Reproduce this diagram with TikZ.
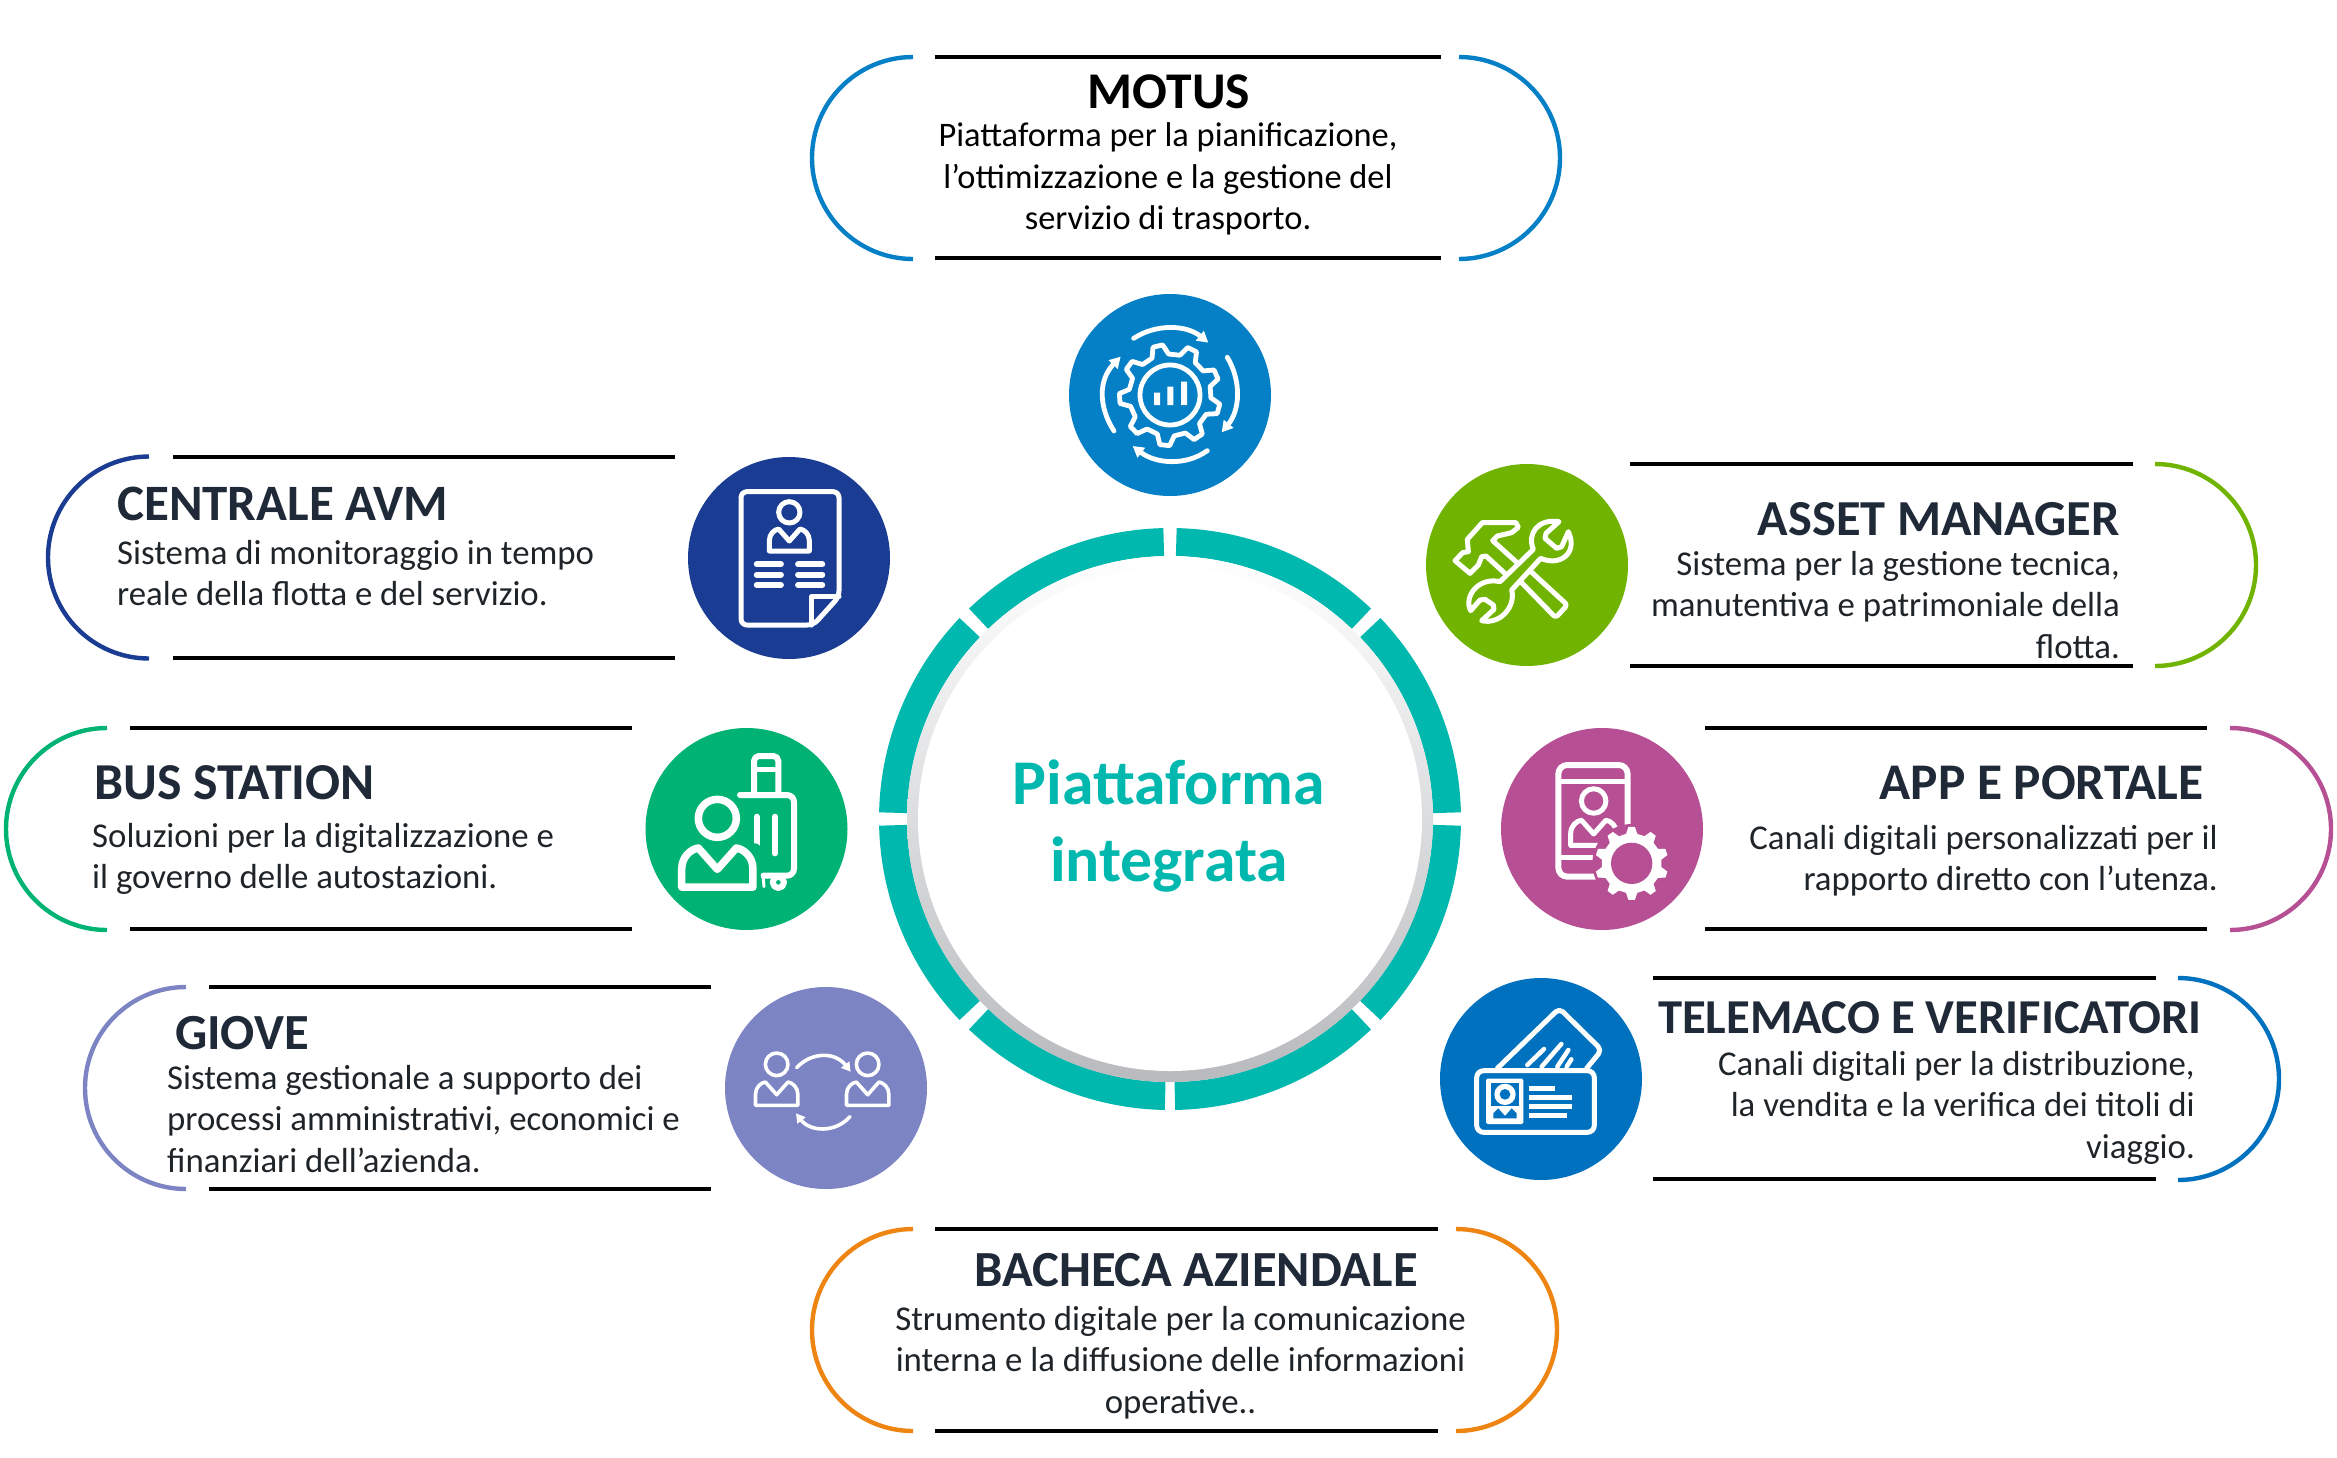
\documentclass[tikz,border=0pt]{standalone}
\usepackage{fontspec}
\setmainfont{Carlito}
\usetikzlibrary{arrows.meta}
\definecolor{cMotus}{HTML}{0580C7}
\definecolor{cAvm}{HTML}{1A3D93}
\definecolor{cAsset}{HTML}{70B300}
\definecolor{cBus}{HTML}{00B373}
\definecolor{cApp}{HTML}{B64F93}
\definecolor{cGiove}{HTML}{7C84C4}
\definecolor{cTele}{HTML}{0071BF}
\definecolor{cBach}{HTML}{EE8412}
\definecolor{cTeal}{HTML}{00B8AE}
\definecolor{cInk}{HTML}{1F2937}
\definecolor{cBody}{HTML}{1F2428}
\definecolor{cRingMid}{HTML}{E8E9EB}
\definecolor{cRingLow}{HTML}{B8BABD}
\tikzset{
  iconbg/.style={circle,minimum size=202pt,inner sep=0pt,draw=none},
  bar/.style={line width=3.6pt,black},
  brk/.style={line width=4.4pt},
  seg/.style={line width=28pt,cTeal},
  ttl/.style={inner sep=0pt,font=\fontsize{#1}{50}\selectfont\bfseries,text=cInk},
  bdy/.style={inner sep=0pt,font=\fontsize{#1}{41.5}\selectfont,text=cBody},
  bdy/.default=34.8,
  mid/.style={inner sep=0pt,font=\fontsize{63.7}{77}\selectfont\bfseries,text=cTeal},
  zoomed/.style 2 args={shift={(#1pt,-#2pt)},x=0.33333pt,y=-0.33333pt},
  ic/.style={white,line width=5pt,line cap=round,line join=round},
  arrowed/.style={-{Triangle[length=11pt,width=12pt]}},
  arrowedsmall/.style={-{Triangle[length=9pt,width=10pt]}},
}
\newcommand{\lines}[2]{\begin{tabular}[t]{@{}#1@{}}#2\end{tabular}}
\newcommand{\leftbr}[3]{\draw[brk,#3] (#1,#2-101) arc[start angle=90,end angle=270,radius=101pt];}
\newcommand{\rightbr}[3]{\draw[brk,#3] (#1,#2-101) arc[start angle=90,end angle=-90,radius=101pt];}
\newcommand{\bars}[4]{\draw[bar] (#1,#3) -- (#2,#3); \draw[bar] (#1,#4) -- (#2,#4);}
% person: centre of head at (#1,#2), scale #3, stroke #4
\newcommand{\personicon}[5][]{%
  \begin{scope}[shift={(#2,#3)},scale=#4]
    \draw[ic,line width=#5,#1] (0,0) circle[radius=32];
    \draw[ic,line width=#5,#1] (-60,116) -- (-60,85) .. controls (-60,65) and (-45,52) .. (-32,50) -- (0,86) -- (32,50) .. controls (45,52) and (60,65) .. (60,85) -- (60,116) -- cycle;
  \end{scope}}
% gear: centre, valley radius, tip radius, tooth count, phase
\newcommand{\gearpath}[5]{%
  (#5-0.30*360/#4:#2) foreach \k in {1,...,#4} {
    -- (#5+\k*360/#4-360/#4-0.30*360/#4:#2)
    -- (#5+\k*360/#4-360/#4-0.14*360/#4:#3)
    -- (#5+\k*360/#4-360/#4+0.14*360/#4:#3)
    -- (#5+\k*360/#4-360/#4+0.30*360/#4:#2)
  } -- cycle}
\begin{document}
\begin{tikzpicture}[x=1pt,y=-1pt]
\useasboundingbox (0,0) rectangle (2337,1457);
\fill[white] (0,0) rectangle (2337,1457);

% central ring
\foreach \a/\b in {1.3/43.7,46.3/88.7,91.3/133.7,136.3/178.7,181.3/223.7,226.3/269.0,271.0/313.7,316.3/358.7}
  \draw[seg] (1170,819) ++(\a:277pt) arc[start angle=\a,end angle=\b,radius=277pt];
\shade[top color=white,middle color=cRingMid,bottom color=cRingLow] (1170,819) circle[radius=263pt];
\fill[white] (1170,819) circle[radius=252pt];
\node[mid,anchor=base] (centre) at (1169,804) {\lines{c}{Piattaforma\\integrata}};

% MOTUS
\leftbr{913}{158}{cMotus}\rightbr{1459}{158}{cMotus}\bars{935}{1441}{57}{258}
\node[ttl=51.5,anchor=base,text=black] (tMotus) at (1169,108.5) {MOTUS};
\node[bdy=34.4,anchor=base,text=black] (bMotus) at (1168,146.5) {\lines{c}{Piattaforma per la pianificazione,\\l’ottimizzazione e la gestione del\\servizio di trasporto.}};
\node[iconbg,fill=cMotus] (iMotus) at (1170,395) {};
\begin{scope}[zoomed={1040}{270}]
  \draw[ic,line width=4.8pt] (390,375) circle[radius=90];
  \begin{scope}[shift={(390,375)}]
    \draw[ic,line width=4.8pt] \gearpath{0}{123}{152}{9}{16};
  \end{scope}
  \fill[white] (342,368) rectangle (360,405) (382,350) rectangle (400,405) (423,335) rectangle (441,405);
  \draw[ic,arrowed,line width=4.8pt] (281,205) .. controls (350,160) and (440,165) .. (505,218);
  \draw[ic,arrowed,line width=4.8pt] (562,262) .. controls (605,335) and (600,420) .. (545,487);
  \draw[ic,arrowed,line width=4.8pt] (502,542) .. controls (435,590) and (345,580) .. (278,528);
  \draw[ic,arrowed,line width=4.8pt] (222,483) .. controls (175,410) and (175,330) .. (242,260);
\end{scope}

% CENTRALE AVM
\leftbr{149}{557.5}{cAvm}\bars{173}{675}{457}{658}
\node[ttl=51,anchor=base west] (tAvm) at (117,520) {CENTRALE AVM};
\node[bdy,anchor=base west] (bAvm) at (117,564) {\lines{l}{Sistema di monitoraggio in tempo\\reale della flotta e del servizio.}};
\node[iconbg,fill=cAvm] (iAvm) at (789,558) {};
\begin{scope}[zoomed={670}{440}]
  \draw[ic,rounded corners=6pt] (213,155) -- (507,155) -- (507,470) -- (430,555) -- (213,555) -- cycle;
  \draw[ic] (425,555) -- (425,470) -- (507,470);
  \personicon{358}{217}{1}{5pt}
  \foreach \y in {373,404,435} {
    \draw[ic,line width=5.8pt] (260,\y) -- (333,\y);
    \draw[ic,line width=5.8pt] (384,\y) -- (457,\y);
  }
\end{scope}

% ASSET MANAGER
\rightbr{2155}{565}{cAsset}\bars{1630}{2133}{464}{666}
\node[ttl=50.4,anchor=base east] (tAsset) at (2120,535) {ASSET MANAGER};
\node[bdy,anchor=base east] (bAsset) at (2120,575) {\lines{r}{Sistema per la gestione tecnica,\\manutentiva e patrimoniale della\\flotta.}};
\node[iconbg,fill=cAsset] (iAsset) at (1527,565) {};
\begin{scope}[zoomed={1410}{450}]
  \draw[ic] (318,335) -- (248,272) -- (262,258) -- (305,248) -- (325,232) -- (318,218) -- (217,218) -- (172,268) -- (175,305) -- (158,308) -- (135,332) -- (180,370) -- (205,345) -- (215,320) -- (228,318) -- (290,375);
  \draw[ic,rounded corners=3pt] (335,398) -- (437,503) -- (472,465) -- (363,365);
  \draw[ic] (270,395) -- (370,298) .. controls (350,250) and (385,205) .. (447,215) -- (408,250) -- (405,265) -- (440,295) -- (455,290) -- (475,245) .. controls (505,310) and (450,350) .. (392,325) -- (305,420) .. controls (318,470) and (270,525) .. (215,512) -- (252,478) -- (250,465) -- (225,448) -- (210,450) -- (182,482) .. controls (160,440) and (205,380) .. (270,395) -- cycle;
\end{scope}

% BUS STATION
\leftbr{107}{829}{cBus}\bars{130}{632}{728}{929}
\node[ttl=51.8,anchor=base west] (tBus) at (94,799) {BUS STATION};
\node[bdy,anchor=base west] (bBus) at (92,847) {\lines{l}{Soluzioni per la digitalizzazione e\\il governo delle autostazioni.}};
\node[iconbg,fill=cBus] (iBus) at (746.5,829) {};
\begin{scope}[zoomed={630}{710}]
  \draw[ic,line width=6pt,rounded corners=7pt] (330,255) -- (492,255) -- (492,497) -- (400,497);
  \draw[ic,line width=6pt,rounded corners=5pt] (372,248) -- (372,138) -- (445,138) -- (445,248);
  \draw[ic,line width=5pt] (382,178) -- (435,178);
  \draw[ic,line width=6pt] (380,320) -- (380,430) (435,320) -- (435,430);
  \draw[ic,line width=6pt] (445,517) circle[radius=17];
  \draw[ic,line width=3pt] (400,505) -- (402,530);
  \fill[cBus] (262,325) circle[radius=78];
  \fill[cBus,rounded corners=5pt] (135,400) rectangle (392,548);
  \personicon{262}{325}{1.78}{7.5pt}
\end{scope}

% APP E PORTALE
\rightbr{2230}{829}{cApp}\bars{1705}{2207}{728}{929}
\node[ttl=51.4,anchor=base east] (tApp) at (2204,799) {APP E PORTALE};
\node[bdy,anchor=base east] (bApp) at (2218,849) {\lines{r}{Canali digitali personalizzati per il\\rapporto diretto con l’utenza.}};
\node[iconbg,fill=cApp] (iApp) at (1602,829) {};
\begin{scope}[zoomed={1490}{710}]
  \draw[ic,line width=6pt,rounded corners=9pt] (330,500) -- (205,500) -- (205,165) -- (413,165) -- (413,360);
  \draw[ic,line width=4.5pt] (210,215) -- (408,215) (210,442) -- (330,442);
  \personicon{311}{273}{1.15}{5pt}
  \fill[cApp] (425,460) circle[radius=118];
  \begin{scope}[shift={(425,460)}]
    \fill[white] \gearpath{0}{90}{110}{10}{90};
    \fill[cApp] (0,0) circle[radius=62];
  \end{scope}
\end{scope}

% GIOVE
\leftbr{186}{1088}{cGiove}\bars{209}{711}{987}{1189}
\node[ttl=50.6,anchor=base west] (tGiove) at (175,1049) {GIOVE};
\node[bdy,anchor=base west] (bGiove) at (167,1089) {\lines{l}{Sistema gestionale a supporto dei\\processi amministrativi, economici e\\finanziari dell’azienda.}};
\node[iconbg,fill=cGiove] (iGiove) at (826,1088) {};
\begin{scope}[zoomed={710}{970}]
  \personicon{200}{283}{1.06}{3.6pt}
  \personicon{473}{283}{1.06}{3.6pt}
  \draw[ic,line width=3.6pt,arrowedsmall] (260,293) .. controls (305,245) and (375,245) .. (422,305);
  \draw[ic,line width=3.6pt,arrowedsmall] (420,440) .. controls (375,490) and (300,485) .. (258,430);
\end{scope}

% TELEMACO E VERIFICATORI
\rightbr{2178}{1079}{cTele}\bars{1653}{2156}{978}{1179}
\node[ttl=48.7,anchor=base east] (tTele) at (2202,1033) {TELEMACO E VERIFICATORI};
\node[bdy,anchor=base east] (bTele) at (2195,1075) {\lines{r}{Canali digitali per la distribuzione,\\la vendita e la verifica dei titoli di\\viaggio.}};
\node[iconbg,fill=cTele] (iTele) at (1541,1079) {};
\begin{scope}[zoomed={1420}{960}]
  \draw[ic,rounded corners=5pt] (232,325) -- (418,145) -- (545,270) -- (500,325);
  \draw[ic,line width=4.5pt] (322,315) -- (372,267) (365,320) -- (424,252) (412,320) -- (445,270) (440,320) -- (454,298);
  \draw[ic,rounded corners=7pt] (170,332) rectangle (523,517);
  \fill[white,rounded corners=1.5pt] (198,356) rectangle (310,492);
  \fill[cTele] (214,370) rectangle (297,438);
  \fill[white] (255,403) circle[radius=32];
  \fill[cTele] (255,403) circle[radius=16];
  \fill[cTele] (220,475) -- (220,460) -- (235,445) -- (255,468) -- (275,445) -- (290,460) -- (290,475) -- cycle;
  \draw[ic,line width=5pt,line cap=butt] (328,385) -- (405,385) (328,413) -- (455,413) (328,439) -- (455,439) (328,465) -- (440,465);
\end{scope}

% BACHECA AZIENDALE
\leftbr{913}{1330}{cBach}\rightbr{1456}{1330}{cBach}\bars{935}{1438}{1229}{1431}
\node[ttl=50.6,anchor=base] (tBach) at (1196,1286) {BACHECA AZIENDALE};
\node[bdy,anchor=base] (bBach) at (1180.5,1330) {\lines{c}{Strumento digitale per la comunicazione\\interna e la diffusione delle informazioni\\operative..}};
\end{tikzpicture}
\end{document}
